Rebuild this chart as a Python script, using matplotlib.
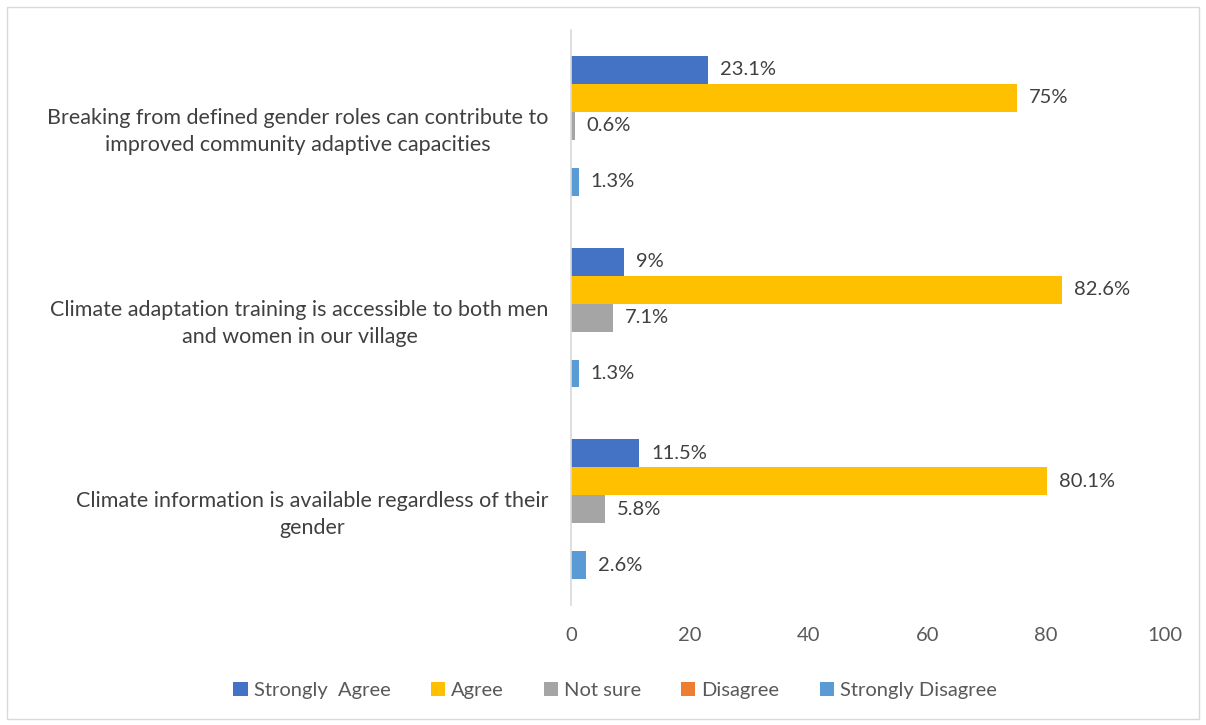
import matplotlib.pyplot as plt
import matplotlib.patches as mpatches
import numpy as np

plt.rcParams['font.family'] = ['Lato', 'DejaVu Sans']

# statements, top to bottom
statements = [
    "Breaking from defined gender roles can contribute to\nimproved community adaptive capacities",
    "Climate adaptation training is accessible to both men\nand women in our village",
    "Climate information is available regardless of their\ngender",
]
series = ["Strongly  Agree", "Agree", "Not sure", "Disagree", "Strongly Disagree"]
colors = ["#4472C4", "#FFC000", "#A5A5A5", "#ED7D31", "#5B9BD5"]

strongly_agree = [23.1, 9, 11.5]
agree = [75, 82.6, 80.1]
not_sure = [0.6, 7.1, 5.8]
disagree = [0, 0, 0]
strongly_disagree = [1.3, 1.3, 2.6]
values = [strongly_agree, agree, not_sure, disagree, strongly_disagree]

fig = plt.figure(figsize=(12.06, 7.25), dpi=100)
ax = fig.add_axes([0.4735, 0.1655, 0.4925, 0.793])

# outer frame
fig.patches.append(mpatches.Rectangle((0.006, 0.008), 0.988, 0.982, transform=fig.transFigure,
                                      fill=False, edgecolor="#D9D9D9", linewidth=1))

n = len(statements)
ypos = np.arange(n)[::-1]  # first statement at top
h = 0.146
for k, (name, vals, c) in enumerate(zip(series, values, colors)):
    y = ypos + (2 - k) * h
    ax.barh(y, vals, height=h, color=c, label=name)
    for yy, v in zip(y, vals):
        if v > 0:
            ax.text(v + 2.0, yy, f"{v:g}%", va="center", ha="left",
                    fontsize=14.5, color="#404040")

ax.set_xlim(0, 100)
ax.set_ylim(-0.5, 2.5)
ax.set_xticks(np.arange(0, 101, 20))
ax.set_yticks(ypos)
ax.set_yticklabels(statements, fontsize=15.5, color="#404040",
                   multialignment="center", linespacing=1.45)
ax.tick_params(axis="y", length=0, pad=16)
ax.tick_params(axis="x", length=0, pad=16, labelsize=14.5, labelcolor="#595959")
for s in ["top", "right", "bottom"]:
    ax.spines[s].set_visible(False)
ax.spines["left"].set_color("#D9D9D9")
ax.spines["left"].set_linewidth(1.2)

handles, labels = ax.get_legend_handles_labels()
fig.legend(handles, labels, loc="center", bbox_to_anchor=(0.51, 0.048), ncol=5,
           frameon=False, fontsize=14.5, handlelength=0.7, handleheight=0.7,
           handletextpad=0.3, columnspacing=2.0, labelcolor="#595959")

fig.savefig("out.png", dpi=100)
